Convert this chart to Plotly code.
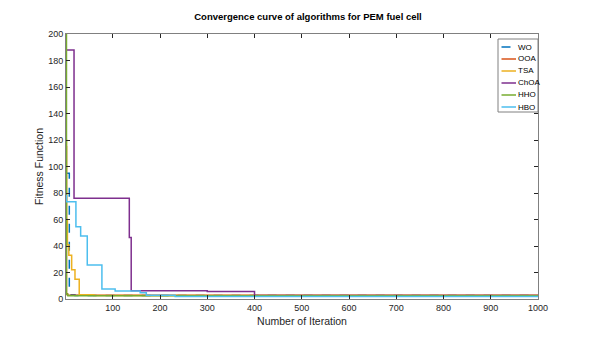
import plotly.graph_objects as go

# step curves: iteration where each value starts, and the best fitness value
wo_it = [1, 8, 20, 1000]
wo_val = [95, 3.2, 2.6, 2.6]

ooa_it = [1, 2, 4, 1000]
ooa_val = [115, 4, 2.8, 2.7]

tsa_it = [1, 2, 4, 7, 13, 20, 29, 60, 1000]
tsa_val = [120, 60, 41, 33, 22, 15, 3.2, 2.7, 2.7]

choa_it = [1, 18, 135, 139, 300, 400, 1000]
choa_val = [188, 76, 46.5, 6.3, 5.6, 2.6, 2.6]

hho_it = [1, 2, 5, 1000]
hho_val = [200, 3.5, 2.4, 2.4]

hbo_it = [1, 2, 22, 32, 46, 77, 105, 158, 171, 232, 1000]
hbo_val = [78, 73.4, 54.5, 47.5, 25.6, 7.5, 6, 4.8, 2.8, 1.8, 1.8]

series = [
    ("WO", wo_it, wo_val, "#0072BD", "dash"),
    ("OOA", ooa_it, ooa_val, "#D95319", "solid"),
    ("TSA", tsa_it, tsa_val, "#EDB120", "solid"),
    ("ChOA", choa_it, choa_val, "#7E2F8E", "solid"),
    ("HHO", hho_it, hho_val, "#77AC30", "solid"),
    ("HBO", hbo_it, hbo_val, "#4DBEEE", "solid"),
]

# page body has an 8px margin, so the figure is shrunk and shifted by that much
OFF = 8
W, H = 594 - OFF, 343 - OFF
L, R, T, B = 66 - OFF, 56, 34 - OFF, 44
pw, ph = W - L - R, H - T - B


def px_x(p):
    return (p - OFF - L) / pw


def px_y(p):
    return (H - B - (p - OFF)) / ph


fig = go.Figure()
for name, it, val, col, dash in series:
    fig.add_trace(go.Scatter(x=it, y=val, mode="lines", name=name, showlegend=False,
                             line=dict(color=col, width=1.5, dash=dash, shape="hv")))

# MATLAB-style compact legend box, inset inside the axes
shapes = [dict(type="rect", xref="paper", yref="paper",
               x0=px_x(498), x1=px_x(538), y0=px_y(112), y1=px_y(39),
               line=dict(color="#808080", width=1), fillcolor="white", layer="above")]
annots = []
for i, (name, it, val, col, dash) in enumerate(series):
    yc = 47 + 12 * i
    shapes.append(dict(type="line", xref="paper", yref="paper",
                       x0=px_x(501.5), x1=px_x(516), y0=px_y(yc), y1=px_y(yc),
                       line=dict(color=col, width=1.5, dash="dash" if dash == "dash" else "solid"),
                       layer="above"))
    annots.append(dict(xref="paper", yref="paper", x=px_x(516), y=px_y(yc),
                       xanchor="left", yanchor="middle", showarrow=False, text=name,
                       font=dict(size=8, color="black")))

axis_style = dict(showline=True, linecolor="#808080", linewidth=1, mirror="ticks",
                  ticks="inside", ticklen=4, tickcolor="#262626", showgrid=False,
                  zeroline=False, automargin=False, tickfont=dict(size=9, color="#262626"))

fig.update_layout(
    width=W, height=H,
    margin=dict(l=L, r=R, t=T, b=B),
    paper_bgcolor="white", plot_bgcolor="white",
    font=dict(family="Arial, Liberation Sans, sans-serif", color="#262626"),
    title=dict(text="<b>Convergence curve of algorithms for PEM fuel cell</b>",
               x=px_x(308), xanchor="center", xref="paper", y=1 - (17 - OFF) / H, yanchor="middle",
               font=dict(size=9.5, color="black")),
    xaxis=dict(range=[1, 1000], tickvals=list(range(100, 1001, 100)),
               title=dict(text="Number of Iteration", font=dict(size=10.5), standoff=5),
               **axis_style),
    yaxis=dict(range=[0, 200], tickvals=list(range(0, 201, 20)),
               title=dict(text="Fitness Function", font=dict(size=10.5), standoff=2),
               **axis_style),
    shapes=shapes,
    annotations=annots,
    showlegend=False,
)

fig.write_html("out.html")
